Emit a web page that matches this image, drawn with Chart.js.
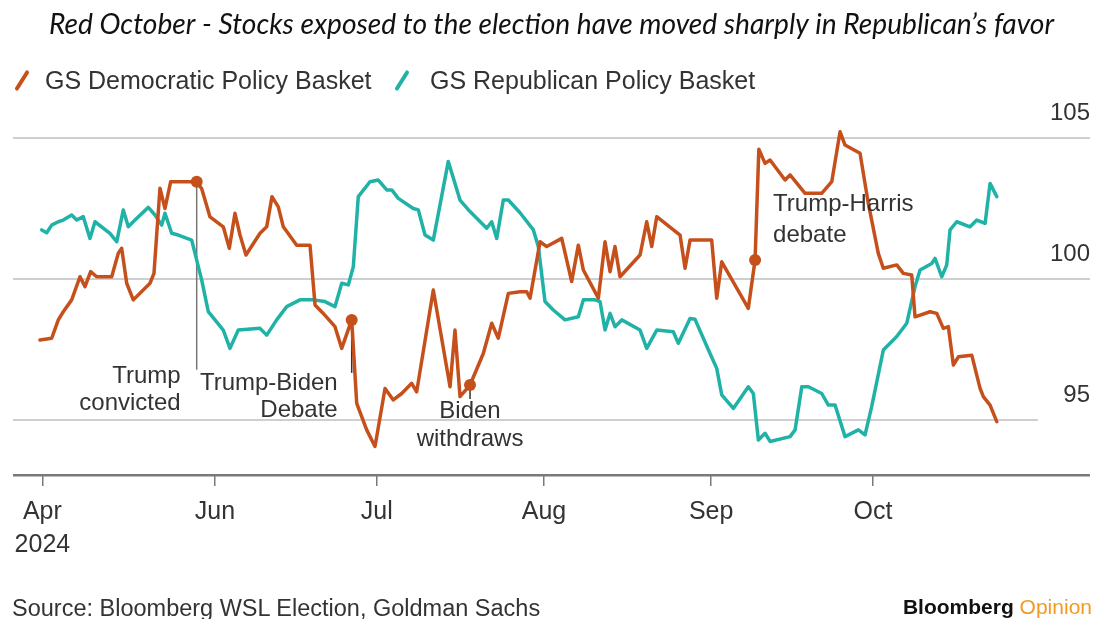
<!DOCTYPE html>
<html>
<head>
<meta charset="utf-8">
<script src="https://cdn.jsdelivr.net/npm/chart.js@4.4.1/dist/chart.umd.min.js"></script>
<style>
  body { margin: 0; background: #fff; }
  #wrap { position: relative; width: 1097px; height: 619px; overflow: hidden; font-family: 'Liberation Sans', Arial, sans-serif; color: #333; }
  canvas { position: absolute; left: 0; top: 0; }
  .legend-item { position: absolute; top: 65px; font-size: 25px; line-height: 30px; white-space: nowrap; }
  .mark { position: absolute; top: 69px; width: 4px; height: 23px; border-radius: 2px; transform: rotate(32deg); }
  #source { position: absolute; left: 12px; top: 593px; font-size: 23.5px; line-height: 30px; white-space: nowrap; }
  #brand { position: absolute; right: 5px; top: 594px; font-size: 21px; line-height: 26px; white-space: nowrap; }
  #brand b { color: #111; }
  #brand span { color: #f29a1f; }
</style>
</head>
<body>
<div id="wrap">
  <canvas id="chart" width="1097" height="619"></canvas>
  <span class="mark" style="left:20px;background:#c5501b"></span>
  <span class="legend-item" style="left:45px">GS Democratic Policy Basket</span>
  <span class="mark" style="left:400px;background:#20b2a6"></span>
  <span class="legend-item" style="left:430px">GS Republican Policy Basket</span>
  <div id="source">Source: Bloomberg WSL Election, Goldman Sachs</div>
  <div id="brand"><b>Bloomberg</b> <span>Opinion</span></div>
</div>
<script>
const titleText = 'Red October - Stocks exposed to the election have moved sharply in Republican\u2019s favor';
const seriesNames = ['GS Democratic Policy Basket', 'GS Republican Policy Basket'];

// x = days counted from the first tick, y = index level
const tickDays = [-1, 31, 61, 92, 123, 153];
const tickLabels = [['Apr', '2024'], 'Jun', 'Jul', 'Aug', 'Sep', 'Oct'];
const yTickValues = [95, 100, 105];

const demDays = [-1.45, 0.72, 1.95, 2.87, 4.43, 5.97, 6.9, 7.95, 9.07, 11.85,
  13.07, 13.7, 14.63, 15.85, 18.95, 19.69, 20.8, 21.73, 22.79, 25.76,
  27.61, 28.54, 30.08, 32.54, 33.66, 34.71, 35.64, 36.75, 39.35, 40.59,
  41.57, 42.74, 43.67, 46.15, 48.62, 49.55, 51.08, 53.25, 54.5, 56.35,
  57.28, 59.13, 60.67, 62.53, 64.06, 65.62, 67.48, 68.4, 71.48, 74.58,
  75.5, 76.43, 78.29, 80.75, 82.31, 83.53, 85.39, 87.56, 88.8, 89.42,
  91.27, 92.51, 95.29, 97.14, 98.37, 99.3, 102.08, 103.32, 104.25, 105.17,
  106.1, 109.81, 111.05, 111.98, 112.91, 117.23, 118.16, 119.08, 123.1, 124.03,
  124.96, 129.89, 131.14, 131.84, 132.99, 133.92, 136.7, 137.63, 140.41, 143.5,
  145.36, 146.9, 147.82, 150.6, 152.14, 153.99, 154.92, 157.41, 158.63, 160.19,
  160.8, 163.58, 164.83, 166.05, 166.98, 167.91, 168.83, 171.32, 172.86, 173.47,
  174.71, 175.96];
const demValues = [97.84, 97.9, 98.55, 98.84, 99.26, 100.08, 99.73, 100.26, 100.08, 100.08,
  100.91, 101.09, 99.85, 99.26, 99.85, 100.2, 103.22, 102.5, 103.45, 103.45,
  103.45, 103.2, 102.2, 101.85, 101.09, 102.33, 101.56, 100.85, 101.62, 101.85,
  102.92, 102.56, 101.85, 101.2, 101.2, 99.08, 98.78, 98.31, 97.54, 98.55,
  95.59, 94.65, 94.06, 96.12, 95.71, 95.94, 96.3, 96.0, 99.61, 96.18,
  98.19, 95.83, 96.24, 97.36, 98.43, 97.9, 99.49, 99.55, 99.55, 99.32,
  101.32, 101.15, 101.44, 99.91, 101.2, 100.32, 99.32, 101.32, 100.26, 101.15,
  100.08, 100.85, 102.03, 101.15, 102.21, 101.56, 100.38, 101.38, 101.38, 99.32,
  100.61, 98.96, 100.67, 104.6, 104.1, 104.22, 103.51, 103.69, 103.04, 103.04,
  103.45, 105.22, 104.75, 104.46, 102.68, 100.91, 100.38, 100.5, 100.2, 100.14,
  98.66, 98.84, 98.78, 98.25, 98.31, 96.95, 97.24, 97.3, 96.12, 95.83,
  95.53, 94.94];

const repDays = [-1.13, -0.2, 0.72, 1.95, 2.87, 4.43, 5.36, 6.58, 7.82, 8.75,
  11.53, 12.78, 14.0, 14.93, 16.17, 18.64, 19.88, 21.12, 21.73, 22.97,
  24.2, 26.68, 28.54, 29.76, 32.54, 33.78, 35.32, 39.35, 40.59, 42.44,
  44.3, 46.76, 49.23, 51.4, 53.25, 54.5, 55.72, 56.65, 57.57, 59.74,
  61.28, 62.84, 63.77, 64.99, 67.77, 68.7, 69.94, 71.48, 74.26, 76.43,
  78.29, 81.38, 82.31, 83.24, 84.46, 85.39, 87.56, 90.03, 90.95, 92.19,
  93.73, 95.9, 98.37, 99.3, 101.47, 102.39, 103.32, 104.25, 105.17, 106.42,
  109.81, 111.05, 112.91, 115.98, 116.91, 119.08, 120.01, 122.79, 124.03, 124.96,
  127.11, 129.89, 130.82, 131.75, 132.99, 133.92, 137.63, 138.56, 139.8, 141.03,
  143.5, 144.73, 145.97, 147.82, 150.29, 151.53, 152.77, 154.92, 157.41, 159.26,
  160.8, 161.73, 163.9, 164.51, 165.75, 166.68, 167.29, 168.53, 171.0, 172.25,
  173.79, 174.71, 175.96];
const repValues = [101.74, 101.64, 101.91, 102.03, 102.09, 102.27, 102.09, 102.21, 101.44, 102.03,
  101.62, 101.32, 102.45, 101.85, 102.09, 102.54, 102.27, 101.91, 102.33, 101.62,
  101.56, 101.38, 99.96, 98.84, 98.19, 97.54, 98.19, 98.25, 98.01, 98.55,
  99.02, 99.26, 99.26, 99.2, 99.02, 99.85, 99.79, 100.44, 102.92, 103.45,
  103.51, 103.16, 103.16, 102.86, 102.5, 102.45, 101.56, 101.38, 104.17, 102.8,
  102.39, 101.8, 102.03, 101.44, 102.8, 102.8, 102.35, 101.74, 101.15, 99.2,
  98.9, 98.55, 98.66, 99.26, 99.26, 99.2, 98.19, 98.78, 98.31, 98.55,
  98.19, 97.54, 98.19, 98.13, 97.72, 98.6, 98.57, 97.36, 96.83, 95.89,
  95.41, 96.18, 95.94, 94.29, 94.53, 94.24, 94.41, 94.65, 96.18, 96.18,
  95.94, 95.53, 95.53, 94.41, 94.65, 94.47, 95.48, 97.48, 97.96, 98.43,
  99.73, 100.32, 100.55, 100.73, 100.08, 100.5, 101.74, 102.03, 101.85, 102.09,
  101.97, 103.39, 102.92];

// events marked on the Democratic line
const eventDays = [27.61, 56.35, 78.29, 131.14];
const eventLabels = [['Trump', 'convicted'], ['Trump-Biden', 'Debate'], ['Biden', 'withdraws'], ['Trump-Harris', 'debate']];

const ORANGE = '#c5501b';
const TEAL = '#20b2a6';
const GRID = '#cfcfcf';
const AXIS = '#7a7a7a';
const FONT = "'Liberation Sans', Arial, sans-serif";

const xMin = -6.45, xMax = 183.6;
const yMin = 93.05, yMax = 106;

// where each callout's text sits relative to its dot
const callouts = [
  { dx: -16, dy: 195, gap: 27, align: 'right', stem: 188, stemColor: '#777' },
  { dx: -14, dy: 63, gap: 27, align: 'right', stem: 53, stemColor: '#333' },
  { dx: 0, dy: 26, gap: 28, align: 'center', stem: 14, stemColor: '#333' },
  { dx: 18, dy: -56, gap: 31, align: 'left', stem: 0 }
];

const calloutPlugin = {
  id: 'callouts',
  beforeDatasetsDraw(chart) {
    const ctx = chart.ctx;
    const meta = chart.getDatasetMeta(0);
    eventDays.forEach((day, i) => {
      const c = callouts[i];
      if (!c.stem) return;
      const pt = meta.data[demDays.indexOf(day)];
      ctx.save();
      ctx.strokeStyle = c.stemColor;
      ctx.lineWidth = 1.5;
      ctx.beginPath();
      ctx.moveTo(pt.x, pt.y);
      ctx.lineTo(pt.x, pt.y + c.stem);
      ctx.stroke();
      ctx.restore();
    });
  },
  afterDatasetsDraw(chart) {
    const ctx = chart.ctx;
    const meta = chart.getDatasetMeta(0);
    ctx.save();
    ctx.font = '24px ' + FONT;
    ctx.fillStyle = '#333';
    ctx.textBaseline = 'middle';
    eventDays.forEach((day, i) => {
      const c = callouts[i];
      const pt = meta.data[demDays.indexOf(day)];
      ctx.textAlign = c.align;
      eventLabels[i].forEach((line, j) => {
        ctx.fillText(line, pt.x + c.dx, pt.y + c.dy + j * c.gap);
      });
    });
    ctx.restore();
  }
};

// size the title so it spans the same width as the original
const titleFamily = "Lato, 'Open Sans', sans-serif";
const measure = document.createElement('canvas').getContext('2d');
measure.font = 'italic 20px ' + titleFamily;
const titleSize = 20 * 1006 / measure.measureText(titleText).width;
const titleLine = titleSize * 1.2;
const titlePadTop = 25 - titleLine / 2;
const titlePadBottom = 109.8 - titlePadTop - titleLine;

Chart.defaults.font.family = FONT;
Chart.defaults.color = '#333';

new Chart(document.getElementById('chart'), {
  type: 'line',
  data: {
    datasets: [
      {
        label: seriesNames[0],
        data: demDays.map((d, i) => ({ x: d, y: demValues[i] })),
        borderColor: ORANGE,
        backgroundColor: ORANGE,
        borderWidth: 3.5,
        borderJoinStyle: 'round',
        borderCapStyle: 'round',
        tension: 0,
        pointRadius: c => (c.raw && eventDays.includes(c.raw.x)) ? 6 : 0,
        pointBackgroundColor: ORANGE,
        pointBorderWidth: 0
      },
      {
        label: seriesNames[1],
        data: repDays.map((d, i) => ({ x: d, y: repValues[i] })),
        borderColor: TEAL,
        backgroundColor: TEAL,
        borderWidth: 3.5,
        borderJoinStyle: 'round',
        borderCapStyle: 'round',
        tension: 0,
        pointRadius: 0
      }
    ]
  },
  options: {
    responsive: false,
    animation: false,
    events: [],
    layout: { padding: { left: 13, right: 7, top: 0, bottom: 0 } },
    plugins: {
      legend: { display: false },
      tooltip: { enabled: false },
      title: {
        display: true,
        text: titleText,
        color: '#111',
        font: { family: titleFamily, size: titleSize, style: 'italic', weight: 'normal', lineHeight: 1.2 },
        padding: { top: titlePadTop, bottom: titlePadBottom }
      }
    },
    scales: {
      x: {
        type: 'linear',
        min: xMin,
        max: xMax,
        afterBuildTicks: s => { s.ticks = tickDays.map(v => ({ value: v })); },
        afterFit: s => { s.height = 144; },
        ticks: {
          autoSkip: false,
          maxRotation: 0,
          padding: 10,
          color: '#333',
          font: { size: 25, lineHeight: 1.3 },
          callback: (v, i) => tickLabels[i]
        },
        grid: { drawOnChartArea: false, drawTicks: true, tickLength: 11, color: AXIS, lineWidth: 1.5 },
        border: { display: false }
      },
      y: {
        position: 'right',
        min: yMin,
        max: yMax,
        afterBuildTicks: s => { s.ticks = [yMin].concat(yTickValues).map(v => ({ value: v })); },
        afterFit: s => { s.width = 52; },
        ticks: {
          padding: 0,
          crossAlign: 'far',
          labelOffset: -25,
          color: '#333',
          font: { size: 24 },
          callback: v => v === yMin ? '' : v
        },
        grid: {
          tickLength: 52,
          color: c => c.tick && c.tick.value === yMin ? AXIS : GRID,
          lineWidth: c => c.tick && c.tick.value === yMin ? 2.5 : 2,
          tickColor: c => {
            const v = c.tick && c.tick.value;
            if (v === 95) return 'rgba(0,0,0,0)';
            return v === yMin ? AXIS : GRID;
          }
        },
        border: { display: false }
      }
    }
  },
  plugins: [calloutPlugin]
});
</script>
</body>
</html>
